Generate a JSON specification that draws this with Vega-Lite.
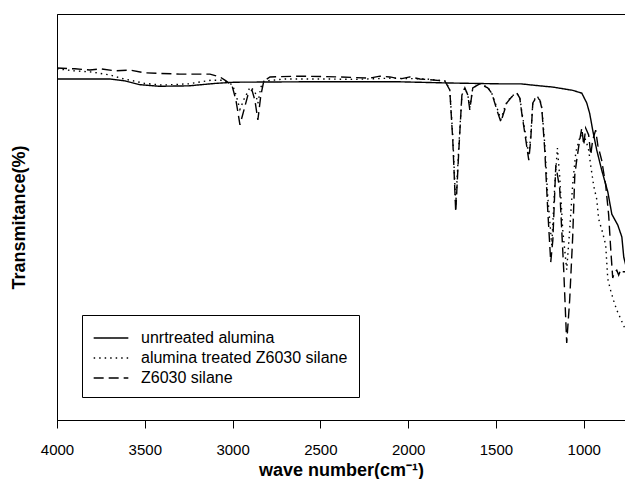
{
  "$schema": "https://vega.github.io/schema/vega-lite/v6.json",
  "width": 568,
  "height": 406,
  "padding": {"left": 10, "top": 14, "right": 0, "bottom": 0},
  "background": "white",
  "config": {
    "font": "Liberation Sans",
    "view": {"stroke": "black", "strokeWidth": 1}
  },
  "datasets": {
    "spectra": [
      {"series": "unrtreated alumina", "wn": 4000, "t": 84.0},
      {"series": "unrtreated alumina", "wn": 3700, "t": 84.0},
      {"series": "unrtreated alumina", "wn": 3610, "t": 83.5},
      {"series": "unrtreated alumina", "wn": 3530, "t": 82.6},
      {"series": "unrtreated alumina", "wn": 3420, "t": 82.2},
      {"series": "unrtreated alumina", "wn": 3250, "t": 82.3},
      {"series": "unrtreated alumina", "wn": 3100, "t": 82.9},
      {"series": "unrtreated alumina", "wn": 2990, "t": 83.2},
      {"series": "unrtreated alumina", "wn": 2600, "t": 83.3},
      {"series": "unrtreated alumina", "wn": 2050, "t": 83.3},
      {"series": "unrtreated alumina", "wn": 1760, "t": 83.0},
      {"series": "unrtreated alumina", "wn": 1480, "t": 82.8},
      {"series": "unrtreated alumina", "wn": 1360, "t": 82.8},
      {"series": "unrtreated alumina", "wn": 1250, "t": 82.3},
      {"series": "unrtreated alumina", "wn": 1176, "t": 82.0},
      {"series": "unrtreated alumina", "wn": 1063, "t": 81.2},
      {"series": "unrtreated alumina", "wn": 1011, "t": 80.5},
      {"series": "unrtreated alumina", "wn": 983, "t": 78.1},
      {"series": "unrtreated alumina", "wn": 966, "t": 75.5},
      {"series": "unrtreated alumina", "wn": 949, "t": 71.4},
      {"series": "unrtreated alumina", "wn": 926, "t": 66.5},
      {"series": "unrtreated alumina", "wn": 898, "t": 61.6},
      {"series": "unrtreated alumina", "wn": 863, "t": 56.2},
      {"series": "unrtreated alumina", "wn": 840, "t": 50.7},
      {"series": "unrtreated alumina", "wn": 806, "t": 48.0},
      {"series": "unrtreated alumina", "wn": 783, "t": 45.1},
      {"series": "unrtreated alumina", "wn": 772, "t": 40.1},
      {"series": "unrtreated alumina", "wn": 761, "t": 38.2},

      {"series": "alumina treated Z6030 silane", "wn": 4000, "t": 86.5},
      {"series": "alumina treated Z6030 silane", "wn": 3900, "t": 86.0},
      {"series": "alumina treated Z6030 silane", "wn": 3800, "t": 85.7},
      {"series": "alumina treated Z6030 silane", "wn": 3700, "t": 85.0},
      {"series": "alumina treated Z6030 silane", "wn": 3620, "t": 84.0},
      {"series": "alumina treated Z6030 silane", "wn": 3584, "t": 83.7},
      {"series": "alumina treated Z6030 silane", "wn": 3500, "t": 82.9},
      {"series": "alumina treated Z6030 silane", "wn": 3400, "t": 82.5},
      {"series": "alumina treated Z6030 silane", "wn": 3250, "t": 82.8},
      {"series": "alumina treated Z6030 silane", "wn": 3120, "t": 83.7},
      {"series": "alumina treated Z6030 silane", "wn": 3050, "t": 83.7},
      {"series": "alumina treated Z6030 silane", "wn": 3000, "t": 82.5},
      {"series": "alumina treated Z6030 silane", "wn": 2980, "t": 80.0},
      {"series": "alumina treated Z6030 silane", "wn": 2958, "t": 76.5},
      {"series": "alumina treated Z6030 silane", "wn": 2935, "t": 79.0},
      {"series": "alumina treated Z6030 silane", "wn": 2900, "t": 82.0},
      {"series": "alumina treated Z6030 silane", "wn": 2873, "t": 81.0},
      {"series": "alumina treated Z6030 silane", "wn": 2856, "t": 78.0},
      {"series": "alumina treated Z6030 silane", "wn": 2839, "t": 82.0},
      {"series": "alumina treated Z6030 silane", "wn": 2820, "t": 83.5},
      {"series": "alumina treated Z6030 silane", "wn": 2700, "t": 84.0},
      {"series": "alumina treated Z6030 silane", "wn": 2500, "t": 84.0},
      {"series": "alumina treated Z6030 silane", "wn": 2300, "t": 83.9},
      {"series": "alumina treated Z6030 silane", "wn": 2100, "t": 84.2},
      {"series": "alumina treated Z6030 silane", "wn": 1900, "t": 84.0},
      {"series": "alumina treated Z6030 silane", "wn": 1790, "t": 83.5},
      {"series": "alumina treated Z6030 silane", "wn": 1763, "t": 81.5},
      {"series": "alumina treated Z6030 silane", "wn": 1746, "t": 70.0},
      {"series": "alumina treated Z6030 silane", "wn": 1729, "t": 53.0},
      {"series": "alumina treated Z6030 silane", "wn": 1712, "t": 67.0},
      {"series": "alumina treated Z6030 silane", "wn": 1694, "t": 80.0},
      {"series": "alumina treated Z6030 silane", "wn": 1677, "t": 81.8},
      {"series": "alumina treated Z6030 silane", "wn": 1660, "t": 80.0},
      {"series": "alumina treated Z6030 silane", "wn": 1649, "t": 77.0},
      {"series": "alumina treated Z6030 silane", "wn": 1632, "t": 81.8},
      {"series": "alumina treated Z6030 silane", "wn": 1592, "t": 82.8},
      {"series": "alumina treated Z6030 silane", "wn": 1547, "t": 82.0},
      {"series": "alumina treated Z6030 silane", "wn": 1524, "t": 80.5},
      {"series": "alumina treated Z6030 silane", "wn": 1495, "t": 77.0},
      {"series": "alumina treated Z6030 silane", "wn": 1472, "t": 74.0},
      {"series": "alumina treated Z6030 silane", "wn": 1450, "t": 77.0},
      {"series": "alumina treated Z6030 silane", "wn": 1438, "t": 78.3},
      {"series": "alumina treated Z6030 silane", "wn": 1410, "t": 79.8},
      {"series": "alumina treated Z6030 silane", "wn": 1381, "t": 80.5},
      {"series": "alumina treated Z6030 silane", "wn": 1364, "t": 79.5},
      {"series": "alumina treated Z6030 silane", "wn": 1353, "t": 76.0},
      {"series": "alumina treated Z6030 silane", "wn": 1330, "t": 70.0},
      {"series": "alumina treated Z6030 silane", "wn": 1313, "t": 65.0},
      {"series": "alumina treated Z6030 silane", "wn": 1302, "t": 70.0},
      {"series": "alumina treated Z6030 silane", "wn": 1290, "t": 78.3},
      {"series": "alumina treated Z6030 silane", "wn": 1268, "t": 79.8},
      {"series": "alumina treated Z6030 silane", "wn": 1250, "t": 79.0},
      {"series": "alumina treated Z6030 silane", "wn": 1239, "t": 77.0},
      {"series": "alumina treated Z6030 silane", "wn": 1222, "t": 68.0},
      {"series": "alumina treated Z6030 silane", "wn": 1205, "t": 55.0},
      {"series": "alumina treated Z6030 silane", "wn": 1182, "t": 43.0},
      {"series": "alumina treated Z6030 silane", "wn": 1165, "t": 58.0},
      {"series": "alumina treated Z6030 silane", "wn": 1150, "t": 67.0},
      {"series": "alumina treated Z6030 silane", "wn": 1137, "t": 60.0},
      {"series": "alumina treated Z6030 silane", "wn": 1120, "t": 47.0},
      {"series": "alumina treated Z6030 silane", "wn": 1097, "t": 37.0},
      {"series": "alumina treated Z6030 silane", "wn": 1080, "t": 46.8},
      {"series": "alumina treated Z6030 silane", "wn": 1063, "t": 58.0},
      {"series": "alumina treated Z6030 silane", "wn": 1045, "t": 66.0},
      {"series": "alumina treated Z6030 silane", "wn": 1020, "t": 70.0},
      {"series": "alumina treated Z6030 silane", "wn": 1000, "t": 70.0},
      {"series": "alumina treated Z6030 silane", "wn": 985, "t": 68.5},
      {"series": "alumina treated Z6030 silane", "wn": 972, "t": 66.5},
      {"series": "alumina treated Z6030 silane", "wn": 960, "t": 62.6},
      {"series": "alumina treated Z6030 silane", "wn": 943, "t": 57.6},
      {"series": "alumina treated Z6030 silane", "wn": 926, "t": 54.4},
      {"series": "alumina treated Z6030 silane", "wn": 915, "t": 49.5},
      {"series": "alumina treated Z6030 silane", "wn": 892, "t": 46.1},
      {"series": "alumina treated Z6030 silane", "wn": 875, "t": 43.1},
      {"series": "alumina treated Z6030 silane", "wn": 863, "t": 34.7},
      {"series": "alumina treated Z6030 silane", "wn": 846, "t": 31.8},
      {"series": "alumina treated Z6030 silane", "wn": 829, "t": 29.3},
      {"series": "alumina treated Z6030 silane", "wn": 812, "t": 27.1},
      {"series": "alumina treated Z6030 silane", "wn": 767, "t": 22.7},
      {"series": "alumina treated Z6030 silane", "wn": 761, "t": 22.2},

      {"series": "Z6030 silane", "wn": 4000, "t": 86.7},
      {"series": "Z6030 silane", "wn": 3898, "t": 86.5},
      {"series": "Z6030 silane", "wn": 3812, "t": 86.2},
      {"series": "Z6030 silane", "wn": 3755, "t": 86.5},
      {"series": "Z6030 silane", "wn": 3670, "t": 86.0},
      {"series": "Z6030 silane", "wn": 3584, "t": 86.2},
      {"series": "Z6030 silane", "wn": 3499, "t": 85.5},
      {"series": "Z6030 silane", "wn": 3300, "t": 85.2},
      {"series": "Z6030 silane", "wn": 3129, "t": 85.2},
      {"series": "Z6030 silane", "wn": 3072, "t": 84.5},
      {"series": "Z6030 silane", "wn": 3044, "t": 83.7},
      {"series": "Z6030 silane", "wn": 3004, "t": 82.5},
      {"series": "Z6030 silane", "wn": 2981, "t": 78.8},
      {"series": "Z6030 silane", "wn": 2958, "t": 72.7},
      {"series": "Z6030 silane", "wn": 2935, "t": 76.4},
      {"series": "Z6030 silane", "wn": 2913, "t": 80.0},
      {"series": "Z6030 silane", "wn": 2890, "t": 81.3},
      {"series": "Z6030 silane", "wn": 2873, "t": 78.8},
      {"series": "Z6030 silane", "wn": 2856, "t": 73.9},
      {"series": "Z6030 silane", "wn": 2839, "t": 80.0},
      {"series": "Z6030 silane", "wn": 2822, "t": 83.5},
      {"series": "Z6030 silane", "wn": 2787, "t": 84.5},
      {"series": "Z6030 silane", "wn": 2617, "t": 84.7},
      {"series": "Z6030 silane", "wn": 2389, "t": 84.5},
      {"series": "Z6030 silane", "wn": 2218, "t": 84.2},
      {"series": "Z6030 silane", "wn": 2161, "t": 84.7},
      {"series": "Z6030 silane", "wn": 2104, "t": 84.5},
      {"series": "Z6030 silane", "wn": 2047, "t": 84.0},
      {"series": "Z6030 silane", "wn": 1990, "t": 84.5},
      {"series": "Z6030 silane", "wn": 1933, "t": 84.0},
      {"series": "Z6030 silane", "wn": 1791, "t": 83.5},
      {"series": "Z6030 silane", "wn": 1763, "t": 81.3},
      {"series": "Z6030 silane", "wn": 1746, "t": 69.0},
      {"series": "Z6030 silane", "wn": 1729, "t": 51.2},
      {"series": "Z6030 silane", "wn": 1712, "t": 66.0},
      {"series": "Z6030 silane", "wn": 1694, "t": 80.0},
      {"series": "Z6030 silane", "wn": 1677, "t": 81.8},
      {"series": "Z6030 silane", "wn": 1660, "t": 80.0},
      {"series": "Z6030 silane", "wn": 1649, "t": 76.4},
      {"series": "Z6030 silane", "wn": 1632, "t": 81.8},
      {"series": "Z6030 silane", "wn": 1592, "t": 82.8},
      {"series": "Z6030 silane", "wn": 1547, "t": 81.8},
      {"series": "Z6030 silane", "wn": 1524, "t": 80.5},
      {"series": "Z6030 silane", "wn": 1495, "t": 76.4},
      {"series": "Z6030 silane", "wn": 1472, "t": 73.4},
      {"series": "Z6030 silane", "wn": 1450, "t": 76.4},
      {"series": "Z6030 silane", "wn": 1438, "t": 78.1},
      {"series": "Z6030 silane", "wn": 1410, "t": 79.6},
      {"series": "Z6030 silane", "wn": 1381, "t": 80.5},
      {"series": "Z6030 silane", "wn": 1364, "t": 79.3},
      {"series": "Z6030 silane", "wn": 1353, "t": 75.6},
      {"series": "Z6030 silane", "wn": 1330, "t": 69.0},
      {"series": "Z6030 silane", "wn": 1313, "t": 64.0},
      {"series": "Z6030 silane", "wn": 1302, "t": 69.0},
      {"series": "Z6030 silane", "wn": 1290, "t": 78.1},
      {"series": "Z6030 silane", "wn": 1268, "t": 79.6},
      {"series": "Z6030 silane", "wn": 1250, "t": 78.8},
      {"series": "Z6030 silane", "wn": 1239, "t": 76.8},
      {"series": "Z6030 silane", "wn": 1222, "t": 66.5},
      {"series": "Z6030 silane", "wn": 1205, "t": 51.7},
      {"series": "Z6030 silane", "wn": 1188, "t": 38.9},
      {"series": "Z6030 silane", "wn": 1176, "t": 44.3},
      {"series": "Z6030 silane", "wn": 1159, "t": 62.8},
      {"series": "Z6030 silane", "wn": 1137, "t": 57.0},
      {"series": "Z6030 silane", "wn": 1114, "t": 36.9},
      {"series": "Z6030 silane", "wn": 1097, "t": 19.0},
      {"series": "Z6030 silane", "wn": 1080, "t": 29.6},
      {"series": "Z6030 silane", "wn": 1063, "t": 45.0},
      {"series": "Z6030 silane", "wn": 1051, "t": 60.3},
      {"series": "Z6030 silane", "wn": 1040, "t": 64.0},
      {"series": "Z6030 silane", "wn": 1023, "t": 69.0},
      {"series": "Z6030 silane", "wn": 1011, "t": 71.9},
      {"series": "Z6030 silane", "wn": 1000, "t": 67.7},
      {"series": "Z6030 silane", "wn": 989, "t": 71.9},
      {"series": "Z6030 silane", "wn": 972, "t": 70.2},
      {"series": "Z6030 silane", "wn": 960, "t": 65.3},
      {"series": "Z6030 silane", "wn": 949, "t": 69.0},
      {"series": "Z6030 silane", "wn": 932, "t": 71.4},
      {"series": "Z6030 silane", "wn": 920, "t": 67.7},
      {"series": "Z6030 silane", "wn": 898, "t": 64.0},
      {"series": "Z6030 silane", "wn": 875, "t": 57.9},
      {"series": "Z6030 silane", "wn": 858, "t": 50.5},
      {"series": "Z6030 silane", "wn": 846, "t": 41.9},
      {"series": "Z6030 silane", "wn": 835, "t": 35.0},
      {"series": "Z6030 silane", "wn": 823, "t": 36.5},
      {"series": "Z6030 silane", "wn": 812, "t": 36.9},
      {"series": "Z6030 silane", "wn": 801, "t": 35.7},
      {"series": "Z6030 silane", "wn": 789, "t": 37.0},
      {"series": "Z6030 silane", "wn": 778, "t": 36.5},
      {"series": "Z6030 silane", "wn": 761, "t": 36.5}
    ]
  },
  "data": {"name": "spectra"},
  "mark": {"type": "line", "clip": true, "strokeWidth": 1.4, "color": "black"},
  "encoding": {
    "x": {
      "field": "wn",
      "type": "quantitative",
      "scale": {"domain": [765, 4000], "reverse": true, "nice": false, "zero": false},
      "axis": {
        "values": [4000, 3500, 3000, 2500, 2000, 1500, 1000],
        "format": "d",
        "grid": false,
        "domainColor": "black",
        "tickColor": "black",
        "tickSize": 8,
        "labelFontSize": 15,
        "labelColor": "black",
        "labelPadding": 14,
        "labelFlush": false,
        "title": "wave number(cm⁻¹)",
        "titleFontSize": 18,
        "titleFontWeight": "bold",
        "titleColor": "black",
        "titlePadding": 4
      }
    },
    "y": {
      "field": "t",
      "type": "quantitative",
      "scale": {"domain": [0, 100], "nice": false},
      "axis": {
        "ticks": false,
        "labels": false,
        "grid": false,
        "domainColor": "black",
        "title": "Transmitance(%)",
        "titleFontSize": 18,
        "titleFontWeight": "bold",
        "titleColor": "black",
        "titlePadding": 29
      }
    },
    "strokeDash": {
      "field": "series",
      "type": "nominal",
      "scale": {
        "domain": ["unrtreated alumina", "alumina treated Z6030 silane", "Z6030 silane"],
        "range": [[1, 0], [1.5, 4], [10, 5]]
      },
      "legend": {
        "orient": "none",
        "legendX": 25,
        "legendY": 301,
        "title": null,
        "strokeColor": "black",
        "fillColor": "white",
        "padding": 11,
        "rowPadding": -2,
        "symbolType": "M-1.55,0L1.55,0",
        "symbolSize": 500,
        "symbolOffset": 6,
        "symbolStrokeColor": "black",
        "symbolFillColor": "transparent",
        "symbolStrokeWidth": 1.4,
        "labelFontSize": 16,
        "labelLimit": 0,
        "labelColor": "black",
        "labelOffset": 18
      }
    }
  }
}
